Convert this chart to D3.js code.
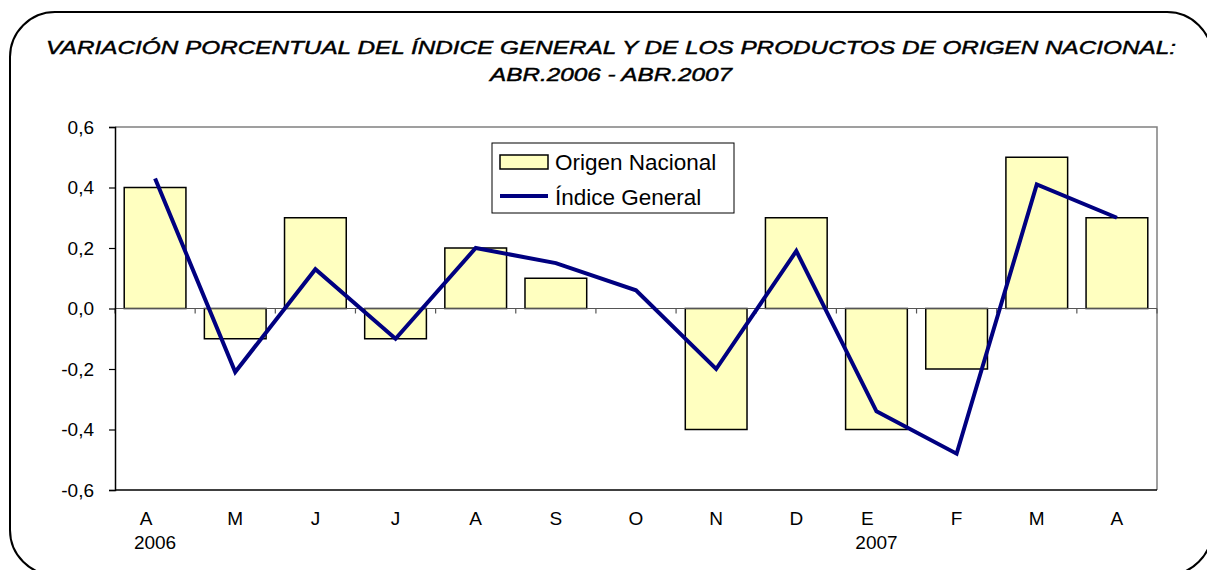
<!DOCTYPE html>
<html>
<head>
<meta charset="utf-8">
<script src="https://cdn.jsdelivr.net/npm/d3@7"></script>
<style>
  html, body { margin: 0; padding: 0; background: #fff; }
  svg { display: block; font-family: "Liberation Sans", Arial, sans-serif; }
</style>
</head>
<body>
<svg id="chart"></svg>
<script>
// chart data
var months = ["A", "M", "J", "J", "A", "S", "O", "N", "D", "E", "F", "M", "A"];
var years = ["2006", "", "", "", "", "", "", "", "", "2007", "", "", ""];
var origenNacional = [0.4, -0.1, 0.3, -0.1, 0.2, 0.1, 0.0, -0.4, 0.3, -0.4, -0.2, 0.5, 0.3];
var indiceGeneral = [0.43, -0.21, 0.13, -0.10, 0.20, 0.15, 0.06, -0.20, 0.19, -0.34, -0.48, 0.41, 0.30];
var yTicks = [-0.6, -0.4, -0.2, 0.0, 0.2, 0.4, 0.6];
var titleLines = ["VARIACIÓN PORCENTUAL DEL ÍNDICE GENERAL Y DE LOS PRODUCTOS DE ORIGEN NACIONAL:",
                  "ABR.2006 - ABR.2007"];
var legendLabels = ["Origen Nacional", "Índice General"];

var width = 1207, height = 570;
var plot = { left: 115, right: 1157, top: 127, bottom: 490 };

var barFill = "#FFFFC0";
var lineColor = "#000080";

var svg = d3.select("#chart").attr("width", width).attr("height", height);

// outer rounded frame (right and bottom edges run just past the page)
svg.append("rect")
   .attr("x", 10).attr("y", 12)
   .attr("width", 1202).attr("height", 563)
   .attr("rx", 45).attr("ry", 45)
   .attr("fill", "none")
   .attr("stroke", "#000")
   .attr("stroke-width", 2);

// title
var titleWidths = [1130, 242];
svg.selectAll(".title")
   .data(titleLines)
   .enter().append("text")
   .attr("class", "title")
   .attr("x", 611)
   .attr("y", function(d, i) { return 53.5 + i * 27.5; })
   .attr("text-anchor", "middle")
   .attr("font-size", 18.5)
   .attr("font-style", "italic")
   .attr("stroke", "#000")
   .attr("stroke-width", 0.45)
   .attr("textLength", function(d, i) { return titleWidths[i]; })
   .attr("lengthAdjust", "spacingAndGlyphs")
   .text(function(d) { return d; });

// scales
var idx = d3.range(months.length);
var x = d3.scaleBand()
          .domain(idx)
          .range([plot.left, plot.right])
          .paddingInner(0.23)
          .paddingOuter(0.115);
var y = d3.scaleLinear().domain([-0.6, 0.6]).range([plot.bottom, plot.top]);

var step = x.step();

// plot border: top and right grey
svg.append("path")
   .attr("d", "M" + plot.left + "," + plot.top + "H" + plot.right + "V" + plot.bottom)
   .attr("fill", "none")
   .attr("stroke", "#808080")
   .attr("stroke-width", 1.5);

// bars (zero values draw nothing)
svg.append("g")
   .selectAll("rect")
   .data(idx.filter(function(i) { return origenNacional[i] !== 0; }))
   .enter().append("rect")
   .attr("x", function(i) { return x(i); })
   .attr("width", x.bandwidth())
   .attr("y", function(i) { return y(Math.max(0, origenNacional[i])); })
   .attr("height", function(i) { return Math.abs(y(origenNacional[i]) - y(0)); })
   .attr("fill", barFill)
   .attr("stroke", "#000")
   .attr("stroke-width", 1.5);

// zero axis with downward ticks at category boundaries
svg.append("line")
   .attr("x1", plot.left).attr("x2", plot.right)
   .attr("y1", y(0)).attr("y2", y(0))
   .attr("stroke", "#555")
   .attr("stroke-width", 1.2);
svg.selectAll(".xtick")
   .data(d3.range(months.length + 1))
   .enter().append("line")
   .attr("class", "xtick")
   .attr("x1", function(d) { return plot.left + d * step; })
   .attr("x2", function(d) { return plot.left + d * step; })
   .attr("y1", y(0)).attr("y2", y(0) + 5)
   .attr("stroke", "#555")
   .attr("stroke-width", 1.2);

// y axis (left) and bottom line
var yAxis = d3.axisLeft(y)
              .tickValues(yTicks)
              .tickSize(6)
              .tickPadding(15)
              .tickFormat(function(d) { return d3.format(".1f")(d).replace(".", ",").replace("−", "-"); });
var gy = svg.append("g")
            .attr("transform", "translate(" + plot.left + ",0)")
            .call(yAxis);
gy.select(".domain").attr("stroke", "#000").attr("stroke-width", 1.5);
gy.selectAll(".tick line").attr("stroke", "#000").attr("stroke-width", 1.2);
gy.selectAll(".tick text")
  .attr("font-size", 19)
  .attr("font-family", "Liberation Sans, Arial, sans-serif")
  .attr("fill", "#000");

svg.append("line")
   .attr("x1", plot.left).attr("x2", plot.right)
   .attr("y1", plot.bottom).attr("y2", plot.bottom)
   .attr("stroke", "#000")
   .attr("stroke-width", 1.5);

// category labels
var xl = svg.append("g").attr("font-size", 19).attr("text-anchor", "middle");
xl.selectAll(".mlabel")
  .data(months)
  .enter().append("text")
  .attr("x", function(d, i) { return x(i) + x.bandwidth() / 2 + (years[i] ? -9 : 0); })
  .attr("y", 525)
  .text(function(d) { return d; });
xl.selectAll(".ylabel")
  .data(years)
  .enter().append("text")
  .attr("x", function(d, i) { return x(i) + x.bandwidth() / 2; })
  .attr("y", 549)
  .text(function(d) { return d; });

// line series
var line = d3.line()
             .x(function(d, i) { return x(i) + x.bandwidth() / 2; })
             .y(function(d) { return y(d); });
svg.append("path")
   .datum(indiceGeneral)
   .attr("d", line)
   .attr("fill", "none")
   .attr("stroke", lineColor)
   .attr("stroke-width", 4)
   .attr("stroke-linejoin", "miter");

// legend
var lg = svg.append("g");
lg.append("rect")
  .attr("x", 492).attr("y", 143)
  .attr("width", 242).attr("height", 70)
  .attr("fill", "#fff")
  .attr("stroke", "#000")
  .attr("stroke-width", 1);
lg.append("rect")
  .attr("x", 500).attr("y", 155)
  .attr("width", 48).attr("height", 14)
  .attr("fill", barFill)
  .attr("stroke", "#000")
  .attr("stroke-width", 1.5);
lg.append("line")
  .attr("x1", 500).attr("x2", 548)
  .attr("y1", 196).attr("y2", 196)
  .attr("stroke", lineColor)
  .attr("stroke-width", 4);
lg.selectAll(".ltext")
  .data(legendLabels)
  .enter().append("text")
  .attr("x", 555)
  .attr("y", function(d, i) { return 170 + i * 35; })
  .attr("font-size", 22.5)
  .text(function(d) { return d; });
</script>
</body>
</html>
